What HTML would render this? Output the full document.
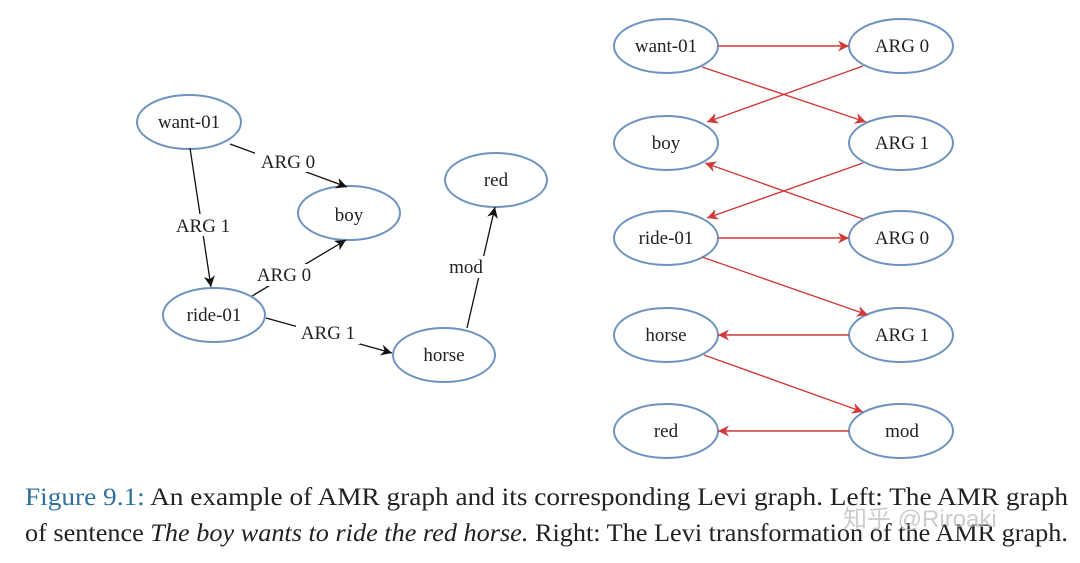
<!DOCTYPE html>
<html><head><meta charset="utf-8"><style>
html,body{margin:0;padding:0;background:#fff;}
svg{display:block;}
</style></head><body>
<svg width="1080" height="563" viewBox="0 0 1080 563" xmlns="http://www.w3.org/2000/svg" font-family="Liberation Serif, serif">
<defs>
<marker id="ab" viewBox="0 0 10 10" refX="10" refY="5" markerWidth="15" markerHeight="11" markerUnits="userSpaceOnUse" orient="auto"><path d="M0,0 L10,5 L0,10 L3,5 z" fill="#111"/></marker>
<marker id="ar" viewBox="0 0 10 10" refX="10" refY="5" markerWidth="15" markerHeight="11" markerUnits="userSpaceOnUse" orient="auto"><path d="M0,0 L10,5 L0,10 L3,5 z" fill="#d03a3a"/></marker>
</defs>
<g fill="none" stroke="#6f93c0" stroke-width="2">
<ellipse cx="189" cy="122" rx="52" ry="27"/>
<ellipse cx="349" cy="213" rx="51" ry="27"/>
<ellipse cx="496" cy="180" rx="51" ry="27"/>
<ellipse cx="214" cy="315" rx="51" ry="27"/>
<ellipse cx="444" cy="355" rx="51" ry="27"/>
<ellipse cx="666" cy="46" rx="52" ry="27"/>
<ellipse cx="666" cy="143" rx="52" ry="27"/>
<ellipse cx="666" cy="238" rx="52" ry="27"/>
<ellipse cx="666" cy="335" rx="52" ry="27"/>
<ellipse cx="666" cy="431" rx="52" ry="27"/>
<ellipse cx="901" cy="46" rx="52" ry="27"/>
<ellipse cx="901" cy="143" rx="52" ry="27"/>
<ellipse cx="901" cy="238" rx="52" ry="27"/>
<ellipse cx="901" cy="335" rx="52" ry="27"/>
<ellipse cx="901" cy="431" rx="52" ry="27"/>
</g>
<g stroke="#111" stroke-width="1.3" fill="none">
<line x1="230" y1="144" x2="347" y2="187" marker-end="url(#ab)"/>
<line x1="190" y1="148" x2="211" y2="287" marker-end="url(#ab)"/>
<line x1="252" y1="296" x2="346" y2="240" marker-end="url(#ab)"/>
<line x1="266" y1="318" x2="392" y2="353" marker-end="url(#ab)"/>
<line x1="467" y1="328" x2="495" y2="207" marker-end="url(#ab)"/>
</g>
<g font-size="19" fill="#222" text-anchor="middle">
<rect x="255" y="150" width="66" height="22" fill="#fff"/><text x="288" y="168">ARG 0</text>
<rect x="172" y="214" width="62" height="22" fill="#fff"/><text x="203" y="232">ARG 1</text>
<rect x="252" y="264" width="64" height="22" fill="#fff"/><text x="284" y="281">ARG 0</text>
<rect x="296" y="322" width="64" height="22" fill="#fff"/><text x="328" y="339">ARG 1</text>
<rect x="446" y="256" width="40" height="22" fill="#fff"/><text x="466" y="273">mod</text>
<text x="189" y="128">want-01</text>
<text x="349" y="221">boy</text>
<text x="496" y="186">red</text>
<text x="214" y="321">ride-01</text>
<text x="444" y="361">horse</text>
<text x="666" y="52">want-01</text>
<text x="666" y="149">boy</text>
<text x="666" y="244">ride-01</text>
<text x="666" y="341">horse</text>
<text x="666" y="437">red</text>
<text x="902" y="52">ARG 0</text>
<text x="902" y="149">ARG 1</text>
<text x="902" y="244">ARG 0</text>
<text x="902" y="341">ARG 1</text>
<text x="902" y="437">mod</text>
</g>
<g stroke="#d03a3a" stroke-width="1.4" fill="none">
<line x1="718" y1="46" x2="849" y2="46" marker-end="url(#ar)"/>
<line x1="702" y1="67" x2="866" y2="122" marker-end="url(#ar)"/>
<line x1="863" y1="66" x2="707" y2="122" marker-end="url(#ar)"/>
<line x1="863" y1="163" x2="707" y2="218" marker-end="url(#ar)"/>
<line x1="863" y1="219" x2="705" y2="163" marker-end="url(#ar)"/>
<line x1="718" y1="238" x2="849" y2="238" marker-end="url(#ar)"/>
<line x1="702" y1="257" x2="868" y2="315" marker-end="url(#ar)"/>
<line x1="849" y1="335" x2="718" y2="335" marker-end="url(#ar)"/>
<line x1="704" y1="355" x2="863" y2="412" marker-end="url(#ar)"/>
<line x1="849" y1="431" x2="718" y2="431" marker-end="url(#ar)"/>
</g>
<g font-size="25" fill="#222">
<text x="25" y="505" textLength="1043" lengthAdjust="spacingAndGlyphs"><tspan fill="#2f6f9f">Figure 9.1:</tspan> An example of AMR graph and its corresponding Levi graph. Left: The AMR graph</text>
<text x="25" y="541" textLength="1043" lengthAdjust="spacingAndGlyphs">of sentence <tspan font-style="italic">The boy wants to ride the red horse.</tspan> Right: The Levi transformation of the AMR graph.</text>
</g>
<text x="843" y="527" font-size="24" fill="#bbb" fill-opacity="0.75" font-family="Liberation Sans, Noto Sans CJK SC, sans-serif">知乎 @Riroaki</text>
</svg>
</body></html>
